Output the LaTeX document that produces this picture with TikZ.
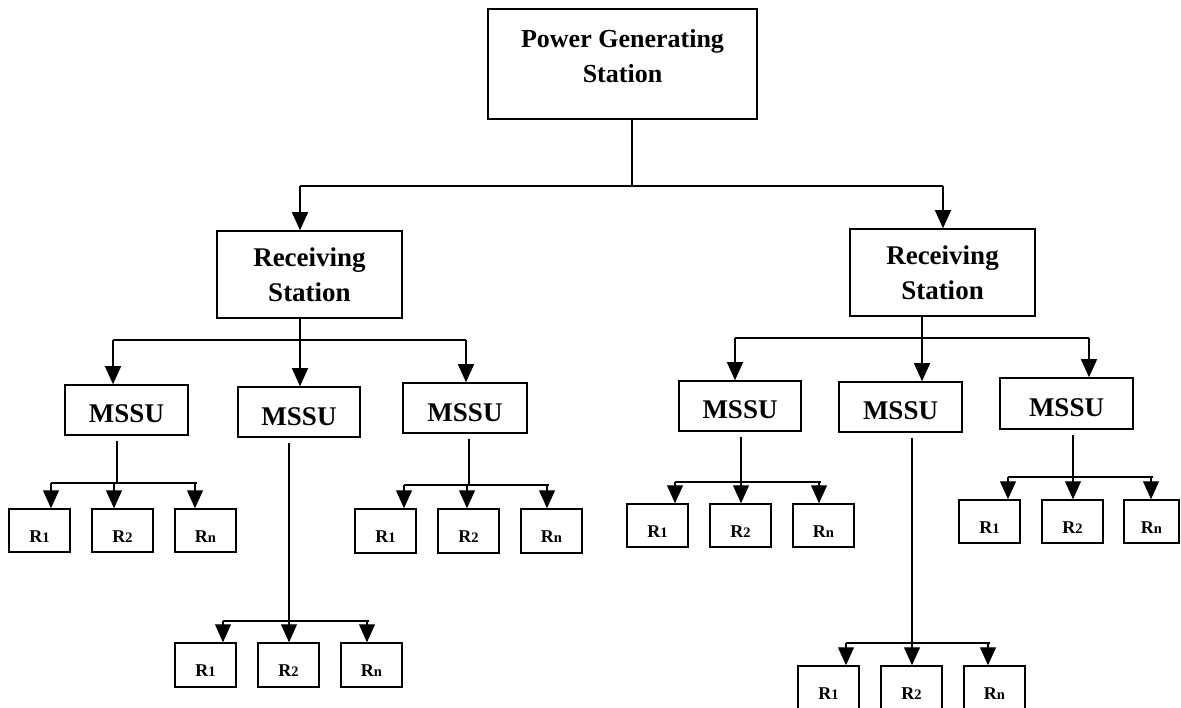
\documentclass[tikz,border=0pt]{standalone}
\usepackage{fontspec}
\setmainfont{Liberation Serif}
\usetikzlibrary{arrows.meta}
\newcommand\rsub[1]{{\fontsize{14.5}{14.5}\selectfont #1}}
\newcommand\fanout[9]{%
  \coordinate (#1-j) at (#2,#3);
  \coordinate (#1-a) at (#4,#3);
  \coordinate (#1-m) at (#5,#3);
  \coordinate (#1-b) at (#6,#3);
  \draw[conn, shorten <=5pt] (#1.south -| #1-j) -- (#1-j);
  \draw[conn] (#1-a) -- ([xshift=2pt]#1-b);
  \draw[arr] (#1-a) -- (#1-a |- #7.north);
  \draw[arr] (#1-m) -- (#1-m |- #8.north);
  \draw[arr] (#1-b) -- (#1-b |- #9.north);
}
\begin{document}
\begin{tikzpicture}[x=1pt,y=-1pt,
  box/.style={draw, line width=1.5pt, rectangle, inner sep=0pt, align=center,
    font=\fontsize{27}{35}\selectfont\bfseries},
  mbox/.style={box, minimum height=50pt, text height=26pt, text depth=0pt},
  rbox/.style={draw, line width=1.5pt, rectangle, inner sep=0pt, minimum width=61pt,
    minimum height=43pt, text height=23pt, text depth=0pt,
    font=\fontsize{18}{18}\selectfont\bfseries},
  conn/.style={line width=1.2pt},
  arr/.style={conn, -{Triangle[width=16pt,length=18pt]}},
]
\clip (0,0) rectangle (1181,708);
\fill[white] (0,0) rectangle (1181,708);

% main boxes
\node[box, font=\fontsize{26}{35}\selectfont\bfseries, minimum width=269pt, minimum height=110pt, text depth=17pt] (pgs) at (622.5,64) {Power Generating\\Station};
\node[box, minimum width=185pt, minimum height=87pt] (rsL) at (309.5,274.5) {Receiving\\Station};
\node[box, minimum width=185pt, minimum height=87pt] (rsR) at (942.5,272.5) {Receiving\\Station};

% MSSU boxes
\node[mbox, minimum width=123pt] (m1) at (126.5,410) {MSSU};
\node[mbox, minimum width=122pt] (m2) at (299,412) {MSSU};
\node[mbox, minimum width=124pt] (m3) at (465,408) {MSSU};
\node[mbox, minimum width=122pt] (m4) at (740,406) {MSSU};
\node[mbox, minimum width=123pt] (m5) at (900.5,407) {MSSU};
\node[mbox, minimum width=133pt, minimum height=51pt] (m6) at (1066.5,403.5) {MSSU};

% R boxes
\node[rbox] (r11) at (39.5,530.5) {R\rsub{1}};
\node[rbox] (r12) at (122.5,530.5) {R\rsub{2}};
\node[rbox] (r1n) at (205.5,530.5) {R\rsub{n}};

\node[rbox, minimum height=44pt] (r21) at (205.5,665) {R\rsub{1}};
\node[rbox, minimum height=44pt] (r22) at (288.5,665) {R\rsub{2}};
\node[rbox, minimum height=44pt] (r2n) at (371.5,665) {R\rsub{n}};

\node[rbox, minimum height=44pt] (r31) at (385.5,531) {R\rsub{1}};
\node[rbox, minimum height=44pt] (r32) at (468.5,531) {R\rsub{2}};
\node[rbox, minimum height=44pt] (r3n) at (551.5,531) {R\rsub{n}};

\node[rbox] (r41) at (657.5,525.5) {R\rsub{1}};
\node[rbox] (r42) at (740.5,525.5) {R\rsub{2}};
\node[rbox] (r4n) at (823.5,525.5) {R\rsub{n}};

\node[rbox, minimum height=44pt] (r51) at (828.5,688) {R\rsub{1}};
\node[rbox, minimum height=44pt] (r52) at (911.5,688) {R\rsub{2}};
\node[rbox, minimum height=44pt] (r5n) at (994.5,688) {R\rsub{n}};

\node[rbox] (r61) at (989.5,521.5) {R\rsub{1}};
\node[rbox] (r62) at (1072.5,521.5) {R\rsub{2}};
\node[rbox, minimum width=55pt] (r6n) at (1151.5,521.5) {R\rsub{n}};

% top level connectors
\coordinate (t) at (632,186);
\coordinate (tl) at (300,186);
\coordinate (tr) at (943,186);
\draw[conn] (pgs.south -| t) -- (t);
\draw[conn] (tl) -- (tr);
\draw[arr] (tl) -- (tl |- rsL.north);
\draw[arr] (tr) -- (tr |- rsR.north);

% left receiving station
\coordinate (lj) at (300,340);
\coordinate (la) at (113,340);
\coordinate (lb) at (466,340);
\draw[conn] (rsL.south -| lj) -- (lj);
\draw[conn] (la) -- (lb);
\draw[arr] (la) -- (la |- m1.north);
\draw[arr] (lj) -- (lj |- m2.north);
\draw[arr] (lb) -- (lb |- m3.north);

% right receiving station
\coordinate (rj) at (922,338);
\coordinate (ra) at (735,338);
\coordinate (rb) at (1089,338);
\draw[conn] (rsR.south -| rj) -- (rj);
\draw[conn] (ra) -- (rb);
\draw[arr] (ra) -- (ra |- m4.north);
\draw[arr] (rj) -- (rj |- m5.north);
\draw[arr] (rb) -- (rb |- m6.north);

% MSSU fan-outs
\fanout{m1}{117}{483}{51}{114}{195}{r11}{r12}{r1n}
\fanout{m2}{289}{621}{223}{289}{367}{r21}{r22}{r2n}
\fanout{m3}{469}{485}{404}{467}{547}{r31}{r32}{r3n}
\fanout{m4}{741}{482}{675}{741}{819}{r41}{r42}{r4n}
\fanout{m5}{912}{643}{846}{912}{988}{r51}{r52}{r5n}
\fanout{m6}{1073}{477}{1008}{1073}{1151}{r61}{r62}{r6n}
\end{tikzpicture}
\end{document}
